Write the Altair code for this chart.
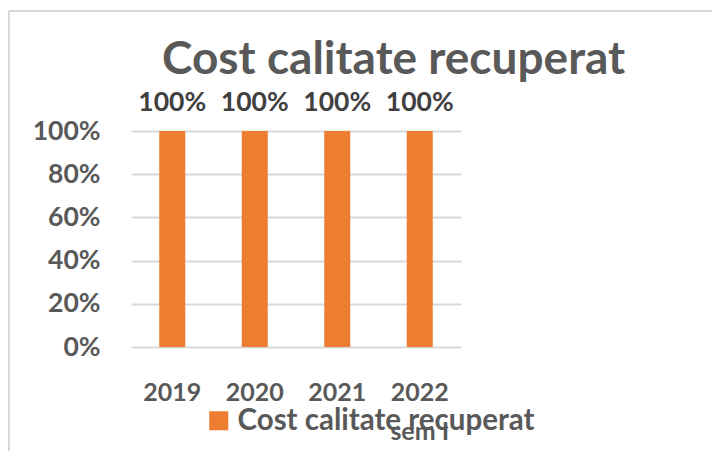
import altair as alt
import pandas as pd

years = ["2019", "2020", "2021", "2022"]
values = [1.0, 1.0, 1.0, 1.0]
series_name = "Cost calitate recuperat"
y_ticks = [0, 0.2, 0.4, 0.6, 0.8, 1.0]

df = pd.DataFrame({"An": years, "Valoare": values, "Serie": [series_name] * len(years)})

FONT = "Lato"
GRAY = "#595959"
ORANGE = "#ED7D31"

x_enc = alt.X(
    "An:N",
    sort=years,
    scale=alt.Scale(paddingInner=0.685, paddingOuter=0.3425),
    axis=alt.Axis(
        title=None, labelAngle=0, domain=False, ticks=False, grid=False,
        labelPadding=33, labelFontSize=25, labelFontWeight="bold",
        labelColor=GRAY, labelFont=FONT,
        labelExpr="datum.value == '2022' ? ['2022', 'sem I'] : datum.value",
        labelLineHeight=39,
    ),
)
y_enc = alt.Y(
    "Valoare:Q",
    scale=alt.Scale(domain=[0, 1]),
    axis=alt.Axis(
        title=None, format=".0%", values=y_ticks, domain=False, ticks=False,
        labelPadding=31, labelFontSize=26.5, labelFontWeight="bold",
        labelColor=GRAY, labelFont=FONT, gridColor="#D9D9D9", gridWidth=2,
    ),
)

base = alt.Chart(df)

bars = base.mark_bar().encode(
    x=x_enc,
    y=y_enc,
    color=alt.Color(
        "Serie:N",
        scale=alt.Scale(domain=[series_name], range=[ORANGE]),
        legend=alt.Legend(
            title=None, orient="none", legendX=73, legendY=275,
            symbolType="square", symbolSize=361, symbolStrokeWidth=0,
            symbolOpacity=1, labelFontSize=29.5, labelFont=FONT,
            labelFontWeight="bold", labelColor=GRAY, labelLimit=0,
            labelOffset=4, padding=0,
        ),
    ),
)

labels = base.mark_text(
    dy=-20, baseline="alphabetic", fontSize=26.5, fontWeight="bold",
    color="#404040", font=FONT,
).encode(x=x_enc, y=y_enc, text=alt.Text("Valoare:Q", format=".0%"))

frame_df = pd.DataFrame({"k": [0]})
top_border = alt.Chart(frame_df).mark_rule(color="#D9D9D9", strokeWidth=2).encode(
    x=alt.value(-122), x2=alt.value(600), y=alt.value(-120)
)
left_border = alt.Chart(frame_df).mark_rule(color="#D9D9D9", strokeWidth=2).encode(
    x=alt.value(-122), y=alt.value(-120), y2=alt.value(400)
)

chart = alt.layer(top_border, left_border, bars, labels).properties(
    width=330,
    height=216,
    autosize=alt.AutoSizeParams(type="none"),
    padding={"left": 123, "top": 123, "right": 251, "bottom": 104},
    title=alt.TitleParams(
        text="Cost calitate recuperat", fontSize=46, font=FONT,
        fontWeight="bold", color=GRAY, anchor="start", dx=154, dy=78,
    ),
).configure_view(stroke=None)

chart.save("out.html", embed_options={"renderer": "svg", "actions": False})
